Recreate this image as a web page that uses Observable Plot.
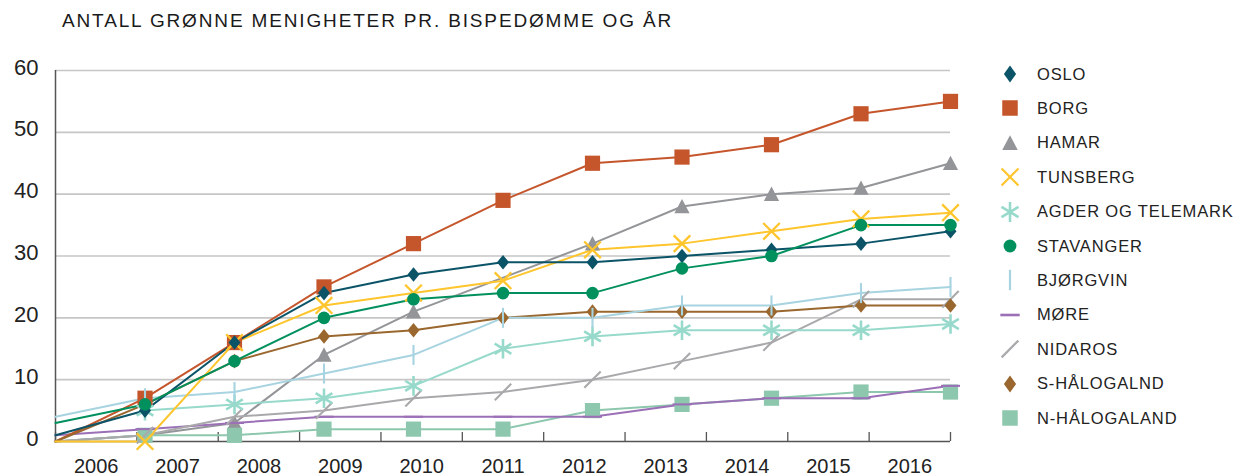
<!DOCTYPE html>
<html><head><meta charset="utf-8">
<script src="https://cdn.jsdelivr.net/npm/d3@7"></script>
<script src="https://cdn.jsdelivr.net/npm/@observablehq/plot@0.6"></script>
<style>
html,body{margin:0;padding:0;background:#fff;}
#wrap{position:relative;width:1244px;height:476px;overflow:hidden;font-family:"Liberation Sans",Arial,sans-serif;color:#222;}
#chart{position:absolute;left:0;top:0;}
#title{position:absolute;left:62px;top:10px;font-size:19px;letter-spacing:1.85px;white-space:nowrap;color:#1a1a1a;}
#legend{position:absolute;left:0;top:0;width:1244px;height:476px;pointer-events:none;}
.row{position:absolute;left:998px;height:24px;display:flex;align-items:center;}
.row svg{width:24px;height:24px;overflow:visible;}
.row span{margin-left:15px;font-size:16.5px;letter-spacing:0.85px;color:#222;white-space:nowrap;}
</style></head><body>
<div id="wrap"><div id="chart"></div><div id="title">ANTALL GRØNNE MENIGHETER PR. BISPEDØMME OG ÅR</div><div id="legend"></div></div>
<script>
// ---- data ----
const years = [2006, 2007, 2008, 2009, 2010, 2011, 2012, 2013, 2014, 2015, 2016];
const seriesNames = ["OSLO", "BORG", "HAMAR", "TUNSBERG", "AGDER OG TELEMARK", "STAVANGER", "BJØRGVIN", "MØRE", "NIDAROS", "S-HÅLOGALND", "N-HÅLOGALAND"];
const oslo      = [1, 5, 16, 24, 27, 29, 29, 30, 31, 32, 34];
const borg      = [0, 7, 16, 25, 32, 39, 45, 46, 48, 53, 55];
const hamar     = [0, 1, 3, 14, 21, null, 32, 38, 40, 41, 45];
const tunsberg  = [0, 0, 16, 22, 24, 26, 31, 32, 34, 36, 37];
const agder     = [null, 5, 6, 7, 9, 15, 17, 18, 18, 18, 19];
const stavanger = [3, 6, 13, 20, 23, 24, 24, 28, 30, 35, 35];
const bjorgvin  = [4, 7, 8, 11, 14, 20, 20, 22, 22, 24, 25];
const more      = [1, 2, 3, 4, 4, 4, 4, 6, 7, 7, 9];
const nidaros   = [0, 1, 4, 5, 7, 8, 10, 13, 16, 23, 23];
const sHalog    = [0, 6, 13, 17, 18, 20, 21, 21, 21, 22, 22];
const nHalog    = [0, 1, 1, 2, 2, 2, 5, 6, 7, 8, 8];
const seriesValues = [oslo, borg, hamar, tunsberg, agder, stavanger, bjorgvin, more, nidaros, sHalog, nHalog];
const yTicks = [0, 10, 20, 30, 40, 50, 60];

// ---- styling ----
const colors = ["#0b5468", "#c5562c", "#939598", "#ffc52c", "#97dacb", "#00905d", "#a7d4e0", "#9b70b7", "#a9a9ac", "#9a672e", "#8dc7ad"];
const kinds  = ["diamond", "square", "triangle", "times", "asterisk", "circle", "bar", "dash", "slash", "diamond", "square"];
const drawOrder = ["HAMAR", "N-HÅLOGALAND", "MØRE", "NIDAROS", "BORG", "AGDER OG TELEMARK", "S-HÅLOGALND", "BJØRGVIN", "TUNSBERG", "OSLO", "STAVANGER"];
const filledKinds = new Set(["diamond", "square", "triangle", "circle"]);

function makeSymbols(s) {
  return {
    diamond: {draw(c) { c.moveTo(0, -7.3 * s.dh); c.lineTo(6 * s.k, 0); c.lineTo(0, 7.3 * s.dh); c.lineTo(-6 * s.k, 0); c.closePath(); }},
    square: {draw(c) { const h = 7.6 * s.k; c.rect(-h, -h, 2 * h, 2 * h); }},
    triangle: {draw(c) { const h = 7.6 * s.k; c.moveTo(0, -h); c.lineTo(h, h * 0.9); c.lineTo(-h, h * 0.9); c.closePath(); }},
    circle: {draw(c) { const r = 6.3 * s.k; c.moveTo(r, 0); c.arc(0, 0, r, 0, 2 * Math.PI); }},
    times: {draw(c) { const h = 8.3 * s.k; c.moveTo(-h, -h); c.lineTo(h, h); c.moveTo(-h, h); c.lineTo(h, -h); }},
    asterisk: {draw(c) { const h = 9.8 * s.k; c.moveTo(0, -h); c.lineTo(0, h); c.moveTo(-h * 0.85, -h * 0.52); c.lineTo(h * 0.85, h * 0.52); c.moveTo(-h * 0.85, h * 0.52); c.lineTo(h * 0.85, -h * 0.52); }},
    bar: {draw(c) { const h = 10 * s.k; c.moveTo(0, -h); c.lineTo(0, h); }},
    dash: {draw(c) { const h = 9.5 * s.k; c.moveTo(-h, 0); c.lineTo(h, 0); }},
    slash: {draw(c) { const h = 8.2 * s.k; c.moveTo(-h, h); c.lineTo(h, -h); }}
  };
}
const chartSyms = makeSymbols({k: 1, dh: 1});
const legendSyms = makeSymbols({k: 1.02, dh: 1.18});

const rows = [];
seriesNames.forEach((name, si) => {
  years.forEach((yr, i) => rows.push({series: name, year: yr, value: seriesValues[si][i]}));
});

const xMin = years[0], xMax = years[years.length - 1];
const bandW = (xMax - xMin) / years.length;
const boundaries = d3.range(years.length + 1).map(k => xMin + k * bandW);
const labelPos = years.map((y, k) => xMin + (k + 0.5) * bandW);
const labelMap = new Map(labelPos.map((p, k) => [p, String(years[k])]));

const lineMarks = [], dotMarks = [];
drawOrder.forEach(name => {
  const si = seriesNames.indexOf(name);
  const col = colors[si], kind = kinds[si];
  const data = rows.filter(d => d.series === name && d.value != null);
  lineMarks.push(Plot.line(data, {x: "year", y: "value", stroke: col, strokeWidth: 2, curve: "linear"}));
  const pts = data.filter(d => d.year !== years[0]);
  const filled = filledKinds.has(kind);
  dotMarks.push(Plot.dot(pts, {
    x: "year", y: "value", symbol: chartSyms[kind], r: 5,
    fill: filled ? col : "none", stroke: filled ? "none" : col,
    strokeWidth: kind === "asterisk" ? 2.6 : kind === "times" ? 2.3 : 2.1
  }));
});

const chart = Plot.plot({
  width: 1244, height: 476,
  marginTop: 70, marginBottom: 35, marginLeft: 55, marginRight: 294,
  x: {domain: [xMin, xMax], label: null},
  y: {domain: [0, 60], label: null},
  style: {fontFamily: '"Liberation Sans", Arial, sans-serif', background: "transparent", overflow: "visible", color: "#222"},
  marks: [
    Plot.gridY(yTicks.filter(t => t > 0), {stroke: "#c6c6c6", strokeOpacity: 1, strokeWidth: 1.6}),
    Plot.axisY(yTicks, {tickSize: 0, tickPadding: 17, fontSize: 22, dy: -3, fill: "#222", label: null}),
    Plot.axisX(labelPos, {tickSize: 0, tickPadding: 17, tickFormat: d => labelMap.get(d), fontSize: 20, fill: "#222", label: null}),
    Plot.axisX(boundaries, {tickSize: -9, fill: "none", stroke: "#555", strokeWidth: 1.3, label: null}),
    Plot.ruleY([0], {stroke: "#555", strokeWidth: 1.5}),
    Plot.ruleX([xMin], {stroke: "#555", strokeWidth: 1.5}),
    ...lineMarks,
    ...dotMarks
  ]
});
document.getElementById("chart").appendChild(chart);

// ---- legend ----
const legendTop = 74, legendStep = 34.4;
const legend = d3.select("#legend");
seriesNames.forEach((name, si) => {
  const kind = kinds[si], col = colors[si];
  const filled = filledKinds.has(kind);
  const row = legend.append("div").attr("class", "row").style("top", (legendTop + si * legendStep - 12) + "px");
  const svg = row.append("svg").attr("viewBox", "-12 -12 24 24");
  svg.append("path")
    .attr("d", d3.symbol(legendSyms[kind], 64)())
    .attr("fill", filled ? col : "none")
    .attr("stroke", filled ? "none" : col)
    .attr("stroke-width", kind === "asterisk" ? 2.6 : kind === "dash" ? 2.6 : 2.2);
  row.append("span").text(name);
});
</script>
</body></html>
